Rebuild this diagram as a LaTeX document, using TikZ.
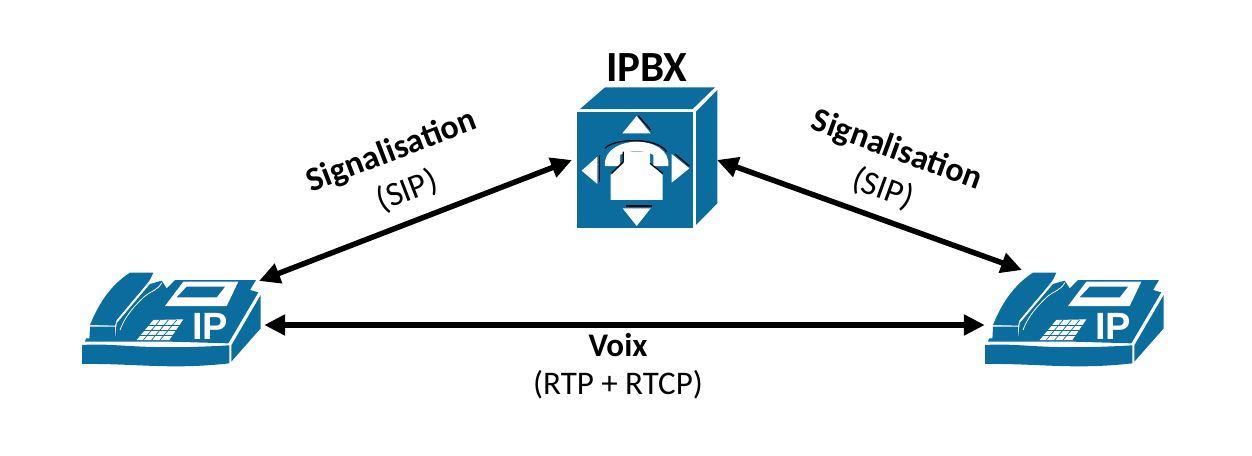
\documentclass[tikz,border=0pt]{standalone}
\usepackage{fontspec}
\setmainfont{Carlito}
\newfontfamily\iconfont{Liberation Sans}
\usetikzlibrary{calc,arrows.meta}
\definecolor{ciscoblue}{HTML}{0B6C9E}
\tikzset{
    box/.style={minimum width=#1,minimum height=80pt,inner sep=0pt},
    link/.style={line width=5.5pt,{Triangle[length=21pt,width=20pt]}-{Triangle[length=21pt,width=20pt]}},
    bold/.style={font=\fontsize{#1}{#1}\selectfont\bfseries,inner sep=0pt},
    thin/.style={font=\fontsize{#1}{#1}\selectfont,inner sep=0pt},
    phone/.pic={
        \begin{scope}[x=.3333pt,y=-.3333pt,shift={(-306,-195)}]
        \fill [ciscoblue] (36,255) .. controls (150,248) and (200,272) .. (478,256) -- (478,310) .. controls (300,330) and (200,310) .. (36,312) -- cycle;
        \fill [ciscoblue] (484,256) -- (572,105) -- (572,205) -- (484,305) -- cycle;
        \fill [ciscoblue] (48,235) -- (135,235) -- (140,190) -- (195,125) -- (240,72) -- (275,62) -- (290,85) -- (315,60) -- (558,60) -- (540,90) -- (565,97) -- (475,250) -- (300,245) -- (150,245) -- (45,245) -- cycle;
        \fill [ciscoblue] (60,195) .. controls (90,120) and (130,70) .. (180,38) -- (250,38) -- (235,70) -- (190,120) -- (140,180) -- (135,197) -- cycle;
        \draw [white,line width=.8pt] (140,185) -- (195,118) -- (250,50);
        \fill [ciscoblue] (60,200) -- (135,200) -- (135,238) -- (58,238) -- cycle;
        \draw [white,line width=.8pt] (150,210) .. controls (165,170) and (190,140) .. (225,108) .. controls (240,95) and (265,90) .. (275,68);
        \fill [white] (285,138) -- (340,65) -- (505,65) -- (470,138) -- cycle;
        \fill [ciscoblue] (320,112) -- (350,80) -- (465,80) -- (440,112) -- cycle;
        \fill [white] (200,240) -- (250,180) -- (340,178) -- (298,240) -- cycle;
        \foreach \row in {195,210,225}
            \draw [ciscoblue,line width=.7pt] (190,\row) -- (350,\row);
        \foreach \col in {20,45,70}
            \draw [ciscoblue,line width=.7pt] (250+\col,180) -- (200+\col,240);
        \node [white,font=\fontsize{38}{38}\selectfont\iconfont\bfseries,inner sep=0pt] at (421,199) {IP};
        \end{scope}
    },
    cube/.pic={
        \begin{scope}[x=.3333pt,y=-.3333pt,shift={(-261,-354)}]
        \fill [ciscoblue] (50,215) rectangle (400,565);
        \fill [ciscoblue] (60,207) -- (135,142) -- (465,142) -- (398,207) -- cycle;
        \fill [ciscoblue] (408,215) -- (472,150) -- (472,490) -- (408,555) -- cycle;
        \fill [white] (187,280) -- (230,228) -- (272,280) -- cycle;
        \fill [white] (65,392) -- (112,350) -- (112,432) -- cycle;
        \fill [white] (335,342) -- (388,385) -- (335,428) -- cycle;
        \fill [white] (188,505) -- (272,505) -- (230,558) -- cycle;
        \draw [black,line width=1.2pt] (235,228) -- (272,270);
        \draw [black,line width=1.2pt] (118,345) -- (118,425);
        \draw [black,line width=1.2pt] (345,342) -- (388,378);
        \draw [black,line width=1.2pt] (198,498) -- (275,498);
        \fill [white] (135,378) .. controls (130,325) and (190,305) .. (230,305) .. controls (280,305) and (330,330) .. (325,378) -- (280,378) -- (280,345) .. controls (260,330) and (200,330) .. (180,345) -- (180,378) -- cycle;
        \draw [black,line width=1.2pt] (135,325) .. controls (160,295) and (290,290) .. (320,335);
        \fill [white] (152,405) -- (190,370) -- (190,335) -- (270,335) -- (270,370) -- (308,405) -- (308,480) -- (152,480) -- cycle;
        \draw [black,line width=1.2pt] (155,400) -- (190,365) -- (190,335);
        \draw [black,line width=1.2pt] (270,370) -- (308,400);
        \end{scope}
    }
}
\begin{document}
\begin{tikzpicture}[x=1pt,y=-1pt]
    \useasboundingbox (0,0) rectangle (1252,455);
    \node (phoneL) at (172,325) [box=180pt] {};
    \node (phoneR) at (1075,325) [box=180pt] {};
    \node (ipbx) at (647,158) [box=142pt,minimum height=140pt] {};
    \pic at (phoneL) {phone};
    \pic at (phoneR) {phone};
    \pic at (ipbx) {cube};
    \node (ipbxname) at (647,68) [bold=43] {IPBX};
    \draw [link] ($(phoneL)+(87,-44)$) -- ($(ipbx)+(-75,2)$);
    \draw [link] ($(ipbx)+(70,2)$) -- ($(phoneR)+(-53,-55)$);
    \draw [link] ($(phoneL.east)+(2,0)$) -- (phoneR.west);
    \node (sigL) at (392,152) [bold=34,rotate=21] {Signalisation};
    \node (sipL) at (407,191) [thin=34,rotate=21] {(SIP)};
    \node (sigR) at (897,151) [bold=34,rotate=-20] {Signalisation};
    \node (sipR) at (883,189) [thin=34,rotate=-20] {(SIP)};
    \node (voix) at (618,345) [bold=33] {Voix};
    \node (rtp) at (618,385) [thin=33] {(RTP + RTCP)};
\end{tikzpicture}
\end{document}
